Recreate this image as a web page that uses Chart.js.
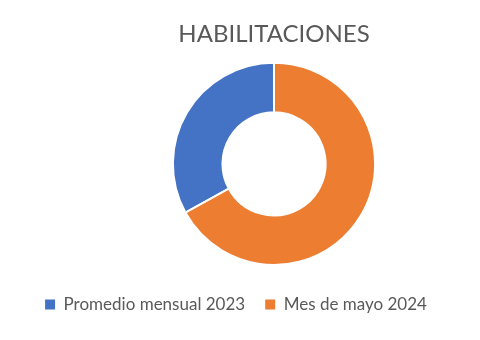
<!DOCTYPE html>
<html>
<head>
<meta charset="utf-8">
<script src="https://cdn.jsdelivr.net/npm/chart.js@4.4.0/dist/chart.umd.min.js"></script>
<style>
  html, body { margin: 0; padding: 0; background: #ffffff; }
  #wrap { position: relative; width: 480px; height: 340px; }
</style>
</head>
<body>
<div id="wrap"><canvas id="habChart" width="480" height="340"></canvas></div>
<script>
// --- data ---
const categories = ['Promedio mensual 2023', 'Mes de mayo 2024'];
const values = [33, 67];
const sliceColors = ['#4472C4', '#ED7D31'];
const chartTitle = 'HABILITACIONES';

// the first slice (blue) ends at 12 o'clock, so start it where the orange one stops
const total = values.reduce((a, b) => a + b, 0);
const startAngle = 360 * values[1] / total;

// legend is centred on the page while the ring and title sit a bit to the right
const offsetBoxes = {
    id: 'offsetBoxes',
    afterLayout(chart) {
        const lg = chart.legend;
        if (lg) {
            lg.left -= 38;
            lg.right -= 38;
            lg.top += 10;
            lg.bottom += 10;
        }
        const ca = chart.chartArea;
        ca.left = 68;
        ca.right = 480;
        ca.width = ca.right - ca.left;
    }
};

const ctx = document.getElementById('habChart');
new Chart(ctx, {
    type: 'doughnut',
    data: {
        labels: categories,
        datasets: [{
            data: values,
            backgroundColor: sliceColors,
            borderColor: '#ffffff',
            borderWidth: 2
        }]
    },
    options: {
        responsive: false,
        animation: false,
        rotation: startAngle,
        cutout: '51%',
        layout: { padding: { left: 34, right: -34, top: 20, bottom: 27 } },
        plugins: {
            title: {
                display: true,
                text: chartTitle,
                color: '#595959',
                font: { family: 'Lato', size: 24, weight: 'normal' },
                padding: { top: 0, bottom: 13 }
            },
            legend: {
                position: 'bottom',
                labels: {
                    color: '#595959',
                    font: { family: 'Lato', size: 17 },
                    boxWidth: 10,
                    boxHeight: 10,
                    padding: 20,
                    // plain filled squares, without the white slice border
                    generateLabels(chart) {
                        const items = Chart.controllers.doughnut.overrides.plugins.legend.labels.generateLabels(chart);
                        items.forEach(it => { it.lineWidth = 0; });
                        return items;
                    }
                }
            },
            tooltip: { enabled: false }
        }
    },
    plugins: [offsetBoxes]
});
</script>
</body>
</html>
